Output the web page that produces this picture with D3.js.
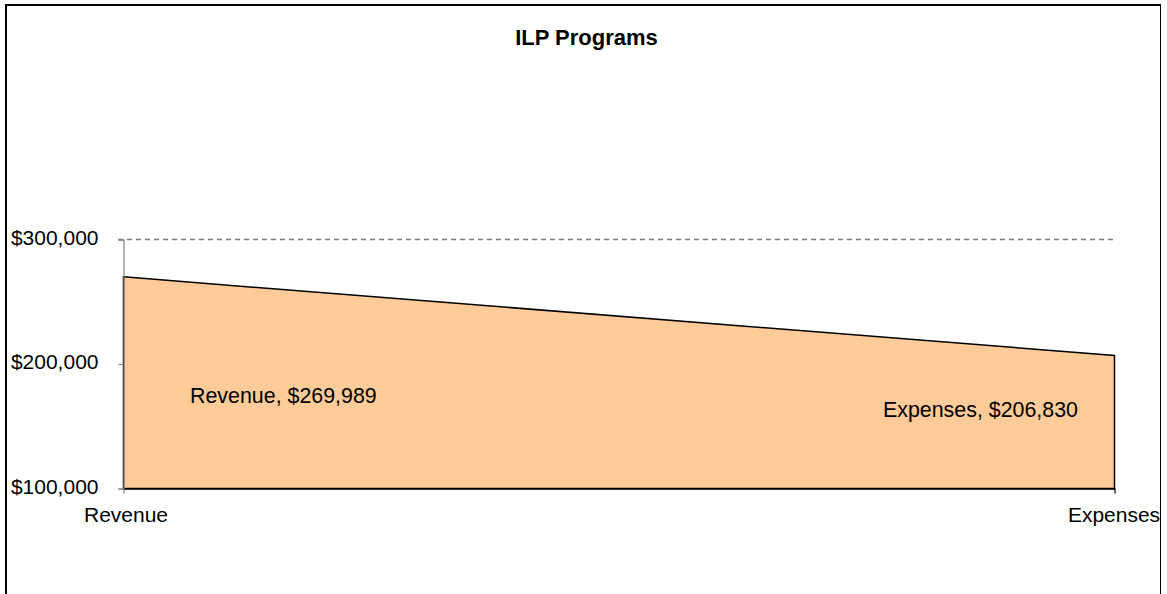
<!DOCTYPE html>
<html>
<head>
<meta charset="utf-8">
<script src="https://cdn.jsdelivr.net/npm/d3@7"></script>
<style>
  html, body { margin: 0; padding: 0; background: #fff; }
  svg { display: block; font-family: "Liberation Sans", Arial, sans-serif; }
</style>
</head>
<body>
<svg id="chart" width="1167" height="594"></svg>
<script>
// Chart data
const categories = ["Revenue", "Expenses"];
const amounts = [269989, 206830];
const yTicks = [100000, 200000, 300000];
const chartTitle = "ILP Programs";

const svg = d3.select("#chart");
const W = 1167, H = 594;

// Outer frame
svg.append("line").attr("x1", 6).attr("x2", 6).attr("y1", 4).attr("y2", H)
  .attr("stroke", "#000").attr("stroke-width", 2);
svg.append("line").attr("x1", 5).attr("x2", 1161).attr("y1", 5).attr("y2", 5)
  .attr("stroke", "#000").attr("stroke-width", 2);
svg.append("line").attr("x1", 1160.5).attr("x2", 1160.5).attr("y1", 4).attr("y2", H)
  .attr("stroke", "#000").attr("stroke-width", 1);

const x = d3.scalePoint().domain(categories).range([123.5, 1114.5]);
const y = d3.scaleLinear().domain([100000, 300000]).range([488.5, 239.5]);

const fmt = d => "$" + d3.format(",")(d);

// Dashed gridline at the top tick
svg.append("g")
  .selectAll("line")
  .data(yTicks.filter(t => t === 300000))
  .join("line")
  .attr("x1", 118).attr("x2", 1115)
  .attr("y1", d => y(d)).attr("y2", d => y(d))
  .attr("stroke", "#7a7a7a").attr("stroke-width", 1.3)
  .attr("stroke-dasharray", "5,4");

// Area
const data = categories.map((c, i) => ({ c, v: amounts[i] }));
const area = d3.area()
  .x(d => x(d.c))
  .y0(y(100000))
  .y1(d => y(d.v));
svg.append("path")
  .datum(data)
  .attr("d", area)
  .attr("fill", "#FFCC99")
  .attr("stroke", "#000")
  .attr("stroke-width", 1.5)
  .attr("stroke-linejoin", "miter");

// Y axis
const yAxis = svg.append("g")
  .attr("transform", `translate(${x(categories[0])},0)`)
  .call(d3.axisLeft(y).tickValues(yTicks).tickFormat(fmt).tickSize(5).tickPadding(20));
yAxis.select(".domain").attr("stroke", "#808080").attr("stroke-width", 1.2);
yAxis.selectAll(".tick line").attr("stroke", "#808080").attr("stroke-width", 1.2);
yAxis.selectAll(".tick text")
  .attr("font-size", 21)
  .attr("fill", "#000")
  .attr("font-family", "Liberation Sans, Arial, sans-serif")
  .attr("dy", "0.22em");

// X axis
const xAxis = svg.append("g")
  .attr("transform", `translate(0,${y(100000)})`)
  .call(d3.axisBottom(x).tickSize(5).tickPadding(14).tickSizeOuter(0));
xAxis.select(".domain").attr("stroke", "#000").attr("stroke-width", 1.5);
xAxis.selectAll(".tick line").attr("stroke", (d, i) => i === 0 ? "#808080" : "#000").attr("stroke-width", 1.2);
xAxis.selectAll(".tick text")
  .attr("font-size", 21)
  .attr("fill", "#000")
  .attr("font-family", "Liberation Sans, Arial, sans-serif")
  .attr("text-anchor", "middle")
  .attr("dx", (d, i) => i === 0 ? 2 : -1);

// Data labels
const labelPos = [
  { dx: 66.5, y: 403, anchor: "start" },
  { dx: -36.5, y: 416.5, anchor: "end" }
];
svg.append("g")
  .selectAll("text")
  .data(data)
  .join("text")
  .attr("x", (d, i) => x(d.c) + labelPos[i].dx)
  .attr("y", (d, i) => labelPos[i].y)
  .attr("text-anchor", (d, i) => labelPos[i].anchor)
  .attr("font-size", 21.4)
  .attr("fill", "#000")
  .text(d => `${d.c}, ${fmt(d.v)}`);

// Title
svg.append("text")
  .attr("x", 586.5)
  .attr("y", 44.5)
  .attr("text-anchor", "middle")
  .attr("font-size", 22)
  .attr("font-weight", "bold")
  .attr("fill", "#000")
  .text(chartTitle);
</script>
</body>
</html>
